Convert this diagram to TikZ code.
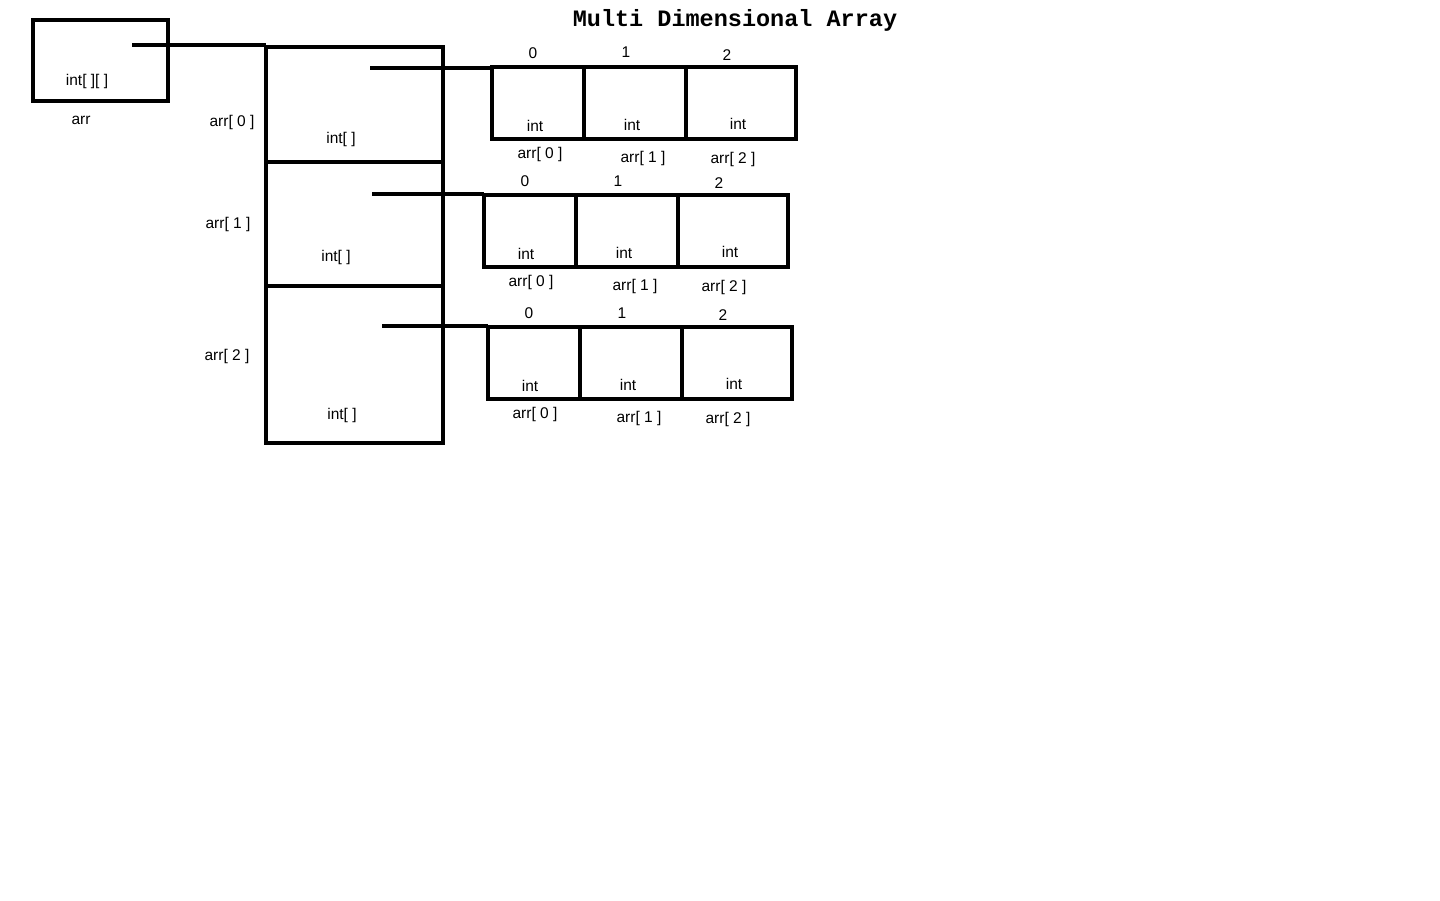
\documentclass[tikz,border=0pt]{standalone}
\usepackage{fontspec}
\setmainfont{Liberation Sans}
\newfontfamily\titlefont{Liberation Mono}
\begin{document}
\begin{tikzpicture}[x=1pt,y=-1pt,
  box/.style={draw=black,line width=3.5pt,rectangle,inner sep=0pt,outer sep=0pt,anchor=north west},
  cell/.style={draw=black,line width=4pt,rectangle,inner sep=0pt,outer sep=0pt,anchor=north west,minimum height=72pt},
  lbl/.style={inner sep=0pt,font=\fontsize{15.5}{17}\selectfont},
  link/.style={line width=3.6pt}]
\useasboundingbox[fill=white] (0,0) rectangle (1440,900);
% title
\node[inner sep=0pt,font=\titlefont\bfseries\fontsize{23.5}{26}\selectfont] (title) at (735,20) {Multi Dimensional Array};
% arr variable
\node[box,minimum width=135pt,minimum height=81pt] (arrbox) at (33,20) {};
\node[lbl] (arrtype) at (87,81) {int[ ][ ]};
\node[lbl] (arrname) at (81,120) {arr};
% outer array
\node[box,minimum width=177pt,minimum height=115pt] (o0) at (266,47) {};
\node[box,minimum width=177pt,minimum height=124pt] (o1) at (266,162) {};
\node[box,minimum width=177pt,minimum height=157pt] (o2) at (266,286) {};
\node[lbl] (o0n) at (232,122) {arr[ 0 ]};
\node[lbl] (o0t) at (341,139) {int[ ]};
\node[lbl] (o1n) at (228,224) {arr[ 1 ]};
\node[lbl] (o1t) at (336,257) {int[ ]};
\node[lbl] (o2n) at (227,356) {arr[ 2 ]};
\node[lbl] (o2t) at (342,415) {int[ ]};
\coordinate (p) at (132,45);
\draw[link] (p) -- (p -| o0.west);
% row 0
\node[cell,minimum width=92pt] (a0) at (492,67) {};
\node[cell,minimum width=102pt] (a1) at (584,67) {};
\node[cell,minimum width=110pt] (a2) at (686,67) {};
\node[lbl] (a0i) at (533,53) {0};
\node[lbl] (a1i) at (626,52) {1};
\node[lbl] (a2i) at (727,55) {2};
\node[lbl] (a0t) at (535,126) {int};
\node[lbl] (a1t) at (632,125) {int};
\node[lbl] (a2t) at (738,124) {int};
\node[lbl] (a0n) at (540,154) {arr[ 0 ]};
\node[lbl] (a1n) at (643,158) {arr[ 1 ]};
\node[lbl] (a2n) at (733,159) {arr[ 2 ]};
\coordinate (q0) at (370,68);
\draw[link] (q0) -- (q0 -| a0.west);
% row 1
\node[cell,minimum width=92pt] (b0) at (484,195) {};
\node[cell,minimum width=102pt] (b1) at (576,195) {};
\node[cell,minimum width=110pt] (b2) at (678,195) {};
\node[lbl] (b0i) at (525,181) {0};
\node[lbl] (b1i) at (618,181) {1};
\node[lbl] (b2i) at (719,183) {2};
\node[lbl] (b0t) at (526,254) {int};
\node[lbl] (b1t) at (624,253) {int};
\node[lbl] (b2t) at (730,252) {int};
\node[lbl] (b0n) at (531,282) {arr[ 0 ]};
\node[lbl] (b1n) at (635,286) {arr[ 1 ]};
\node[lbl] (b2n) at (724,287) {arr[ 2 ]};
\coordinate (q1) at (372,194);
\draw[link] (q1) -- (q1 -| b0.west);
% row 2
\node[cell,minimum width=92pt] (c0) at (488,327) {};
\node[cell,minimum width=102pt] (c1) at (580,327) {};
\node[cell,minimum width=110pt] (c2) at (682,327) {};
\node[lbl] (c0i) at (529,313) {0};
\node[lbl] (c1i) at (622,313) {1};
\node[lbl] (c2i) at (723,315) {2};
\node[lbl] (c0t) at (530,386) {int};
\node[lbl] (c1t) at (628,385) {int};
\node[lbl] (c2t) at (734,384) {int};
\node[lbl] (c0n) at (535,414) {arr[ 0 ]};
\node[lbl] (c1n) at (639,418) {arr[ 1 ]};
\node[lbl] (c2n) at (728,419) {arr[ 2 ]};
\coordinate (q2) at (382,326);
\draw[link] (q2) -- (q2 -| c0.west);
\end{tikzpicture}
\end{document}
